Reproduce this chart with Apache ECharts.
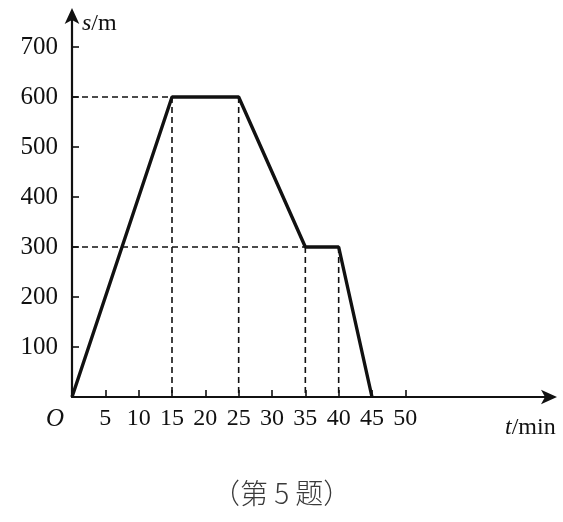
<!DOCTYPE html>
<html><head><meta charset="utf-8">
<script src="https://cdn.jsdelivr.net/npm/echarts@6/dist/echarts.min.js"></script>
<style>html,body{margin:0;padding:0;background:#fff}#c{width:563px;height:522px}</style>
</head><body><div id="c"></div>
<script>
const times = [0, 15, 25, 35, 40, 45];
const distances = [0, 600, 600, 300, 300, 0];
const xTicks = [5, 10, 15, 20, 25, 30, 35, 40, 45, 50];
const yTicks = [100, 200, 300, 400, 500, 600, 700];

const pts = times.map((t, i) => [t, distances[i]]);
const guideSegs = [];
const seenY = {};
pts.forEach(([x, y], i) => {
  if (i === 0 || i === pts.length - 1) return;
  guideSegs.push([[x, y], [x, 0]]);
  if (!seenY[y]) { seenY[y] = 1; guideSegs.push([[0, y], [x, y]]); }
});
const ink = '#111';
const dashSeries = guideSegs.map(seg => ({
  type: 'line', data: seg, symbol: 'none', silent: true, z: 1,
  lineStyle: { color: ink, width: 1.6, type: [6, 4] }
}));

const chart = echarts.init(document.getElementById('c'), null, { renderer: 'canvas' });
chart.setOption({
  backgroundColor: '#fff',
  animation: false,
  grid: { left: 72, right: 10, top: 12, bottom: 125, containLabel: false },
  xAxis: {
    type: 'value', min: 0, max: 72.15,
    axisLine: { lineStyle: { color: ink, width: 2.2 }, symbol: ['none', 'arrow'], symbolSize: [11, 16], symbolOffset: [0, 4] },
    axisTick: { inside: true, length: 7, lineStyle: { color: ink, width: 1.6 }, customValues: xTicks },
    axisLabel: { color: ink, fontFamily: 'Liberation Serif', fontSize: 24, margin: 10, customValues: xTicks },
    splitLine: { show: false }
  },
  yAxis: {
    type: 'value', min: 0, max: 770,
    axisLine: { lineStyle: { color: ink, width: 2.2 }, symbol: ['none', 'arrow'], symbolSize: [11, 16], symbolOffset: [0, 4] },
    axisTick: { inside: true, length: 7, lineStyle: { color: ink, width: 1.6 }, customValues: yTicks },
    axisLabel: { color: ink, fontFamily: 'Liberation Serif', fontSize: 25, margin: 14, customValues: yTicks },
    splitLine: { show: false }
  },
  series: [
    { type: 'line', data: pts, symbol: 'none', z: 3, lineStyle: { color: ink, width: 3.4 } },
    ...dashSeries
  ],
  graphic: [
    { type: 'text', left: 82, top: 12, style: { text: '{i|s}/m', rich: { i: { fontStyle: 'italic', fontFamily: 'Liberation Serif', fontSize: 24, fill: ink } }, fontFamily: 'Liberation Serif', fontSize: 24, fill: ink } },
    { type: 'text', left: 505, top: 416, style: { text: '{i|t}/min', rich: { i: { fontStyle: 'italic', fontFamily: 'Liberation Serif', fontSize: 24, fill: ink } }, fontFamily: 'Liberation Serif', fontSize: 24, fill: ink } },
    { type: 'text', left: 46, top: 407, style: { text: 'O', fontStyle: 'italic', fontFamily: 'Liberation Serif', fontSize: 25, fill: ink } },
    { type: 'text', left: 212, top: 479, style: { text: '（第 5 题）', fontFamily: 'Noto Sans CJK SC', fontWeight: 300, fontSize: 28, fill: '#3a3a3a' } }
  ]
});
</script></body></html>
